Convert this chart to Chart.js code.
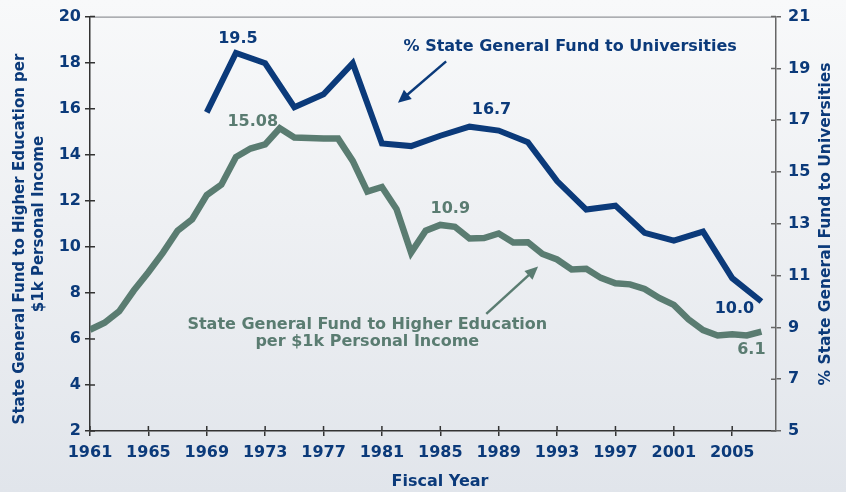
<!DOCTYPE html>
<html>
<head>
<meta charset="utf-8">
<script src="https://cdn.jsdelivr.net/npm/chart.js@4.4.1/dist/chart.umd.min.js"></script>
<style>
  html, body { margin: 0; padding: 0; }
  body {
    width: 846px; height: 492px; overflow: hidden;
    background: linear-gradient(to bottom, #f8f9fa 0%, #eef0f3 45%, #e1e5eb 100%);
  }
  #wrap { position: relative; width: 846px; height: 492px; }
</style>
</head>
<body>
<div id="wrap"><canvas id="c" width="846" height="492"></canvas></div>
<script>
// Fiscal years on the x axis
const incomeYears = [
  1961, 1962, 1963, 1964, 1965, 1966, 1967, 1968, 1969, 1970,
  1971, 1972, 1973, 1974, 1975, 1976, 1977, 1978, 1979, 1980,
  1981, 1982, 1983, 1984, 1985, 1986, 1987, 1988, 1989, 1990,
  1991, 1992, 1993, 1994, 1995, 1996, 1997, 1998, 1999, 2000,
  2001, 2002, 2003, 2004, 2005, 2006, 2007,
];
// State GF to higher ed per $1k personal income (left axis)
const perIncome = [
  6.4, 6.7, 7.2, 8.1, 8.9, 9.75, 10.7, 11.2, 12.25, 12.7,
  13.9, 14.27, 14.45, 15.15, 14.75, 14.73, 14.7, 14.7, 13.73, 12.4,
  12.6, 11.64, 9.75, 10.7, 10.95, 10.87, 10.36, 10.38, 10.58, 10.19,
  10.2, 9.69, 9.45, 9.02, 9.05, 8.65, 8.42, 8.37, 8.17, 7.78,
  7.48, 6.85, 6.38, 6.15, 6.2, 6.15, 6.32,
];
// % of state general fund going to universities (right axis), every other year
const pctYears = [
  1969, 1971, 1973, 1975, 1977, 1979, 1981, 1983, 1985, 1987,
  1989, 1991, 1993, 1995, 1997, 1999, 2001, 2003, 2005, 2007,
];
const pctToUniv = [
  17.3, 19.6, 19.2, 17.5, 18.0, 19.2, 16.1, 16.0, 16.4, 16.75,
  16.6, 16.15, 14.65, 13.55, 13.7, 12.65, 12.35, 12.7, 10.9, 10.0,
];
const xTicks = [1961, 1965, 1969, 1973, 1977, 1981, 1985, 1989, 1993, 1997, 2001, 2005];

const BLUE = "#0b3a7a";
const GREEN = "#5a7c71";
const FONT = "'DejaVu Sans', Verdana, sans-serif";

// callouts: text anchored at a data point on one of the y axes, nudged by dx/dy px
const callouts = [
  { text: "19.5", x: 1971, y: 19.6, axis: "yR", dx: 2, dy: -14, color: BLUE },
  { text: "15.08", x: 1974, y: 15.08, axis: "yL", dx: -27, dy: -8, color: GREEN },
  { text: "16.7", x: 1987, y: 16.75, axis: "yR", dx: 22, dy: -17, color: BLUE },
  { text: "10.9", x: 1985, y: 10.95, axis: "yL", dx: 10, dy: -16, color: GREEN },
  { text: "10.0", x: 2007, y: 10.0, axis: "yR", dx: -27, dy: 7, color: BLUE },
  { text: "6.1", x: 2007, y: 6.32, axis: "yL", dx: -10, dy: 18, color: GREEN },
];
const seriesNotes = [
  { lines: ["% State General Fund to Universities"], x: 1993.9, y: 19.85, axis: "yR", color: BLUE,
    arrow: { from: [1985.4, 19.27], to: [1982.1, 17.67] } },
  { lines: ["State General Fund to Higher Education", "per $1k Personal Income"], x: 1980.0, y: 6.59, axis: "yL", color: GREEN,
    arrow: { from: [1988.15, 7.09], to: [1991.7, 9.14] } },
];

function drawArrow(ctx, x1, y1, x2, y2, color) {
  const a = Math.atan2(y2 - y1, x2 - x1);
  const head = 13, half = 6;
  ctx.save();
  ctx.strokeStyle = color;
  ctx.fillStyle = color;
  ctx.lineWidth = 2.5;
  ctx.beginPath();
  ctx.moveTo(x1, y1);
  ctx.lineTo(x2 - Math.cos(a) * head * 0.8, y2 - Math.sin(a) * head * 0.8);
  ctx.stroke();
  ctx.beginPath();
  ctx.moveTo(x2, y2);
  ctx.lineTo(x2 - head * Math.cos(a) + half * Math.sin(a), y2 - head * Math.sin(a) - half * Math.cos(a));
  ctx.lineTo(x2 - head * Math.cos(a) - half * Math.sin(a), y2 - head * Math.sin(a) + half * Math.cos(a));
  ctx.closePath();
  ctx.fill();
  ctx.restore();
}

const decorations = {
  id: "decorations",
  afterDraw(chart) {
    const { ctx, chartArea: ca, scales } = chart;
    const x = scales.x;

    // top frame line
    ctx.save();
    ctx.strokeStyle = "#7a7d82";
    ctx.lineWidth = 1;
    ctx.beginPath();
    ctx.moveTo(ca.left, ca.top + 0.5);
    ctx.lineTo(ca.right, ca.top + 0.5);
    ctx.stroke();

    // inward half of the crossing tick marks
    ctx.strokeStyle = "#333";
    ctx.lineWidth = 1.5;
    ctx.beginPath();
    x.ticks.forEach((t) => {
      const px = x.getPixelForValue(t.value);
      ctx.moveTo(px, ca.bottom); ctx.lineTo(px, ca.bottom - 5);
    });
    scales.yL.ticks.forEach((t) => {
      const py = scales.yL.getPixelForValue(t.value);
      ctx.moveTo(ca.left, py); ctx.lineTo(ca.left + 5, py);
    });
    ctx.stroke();
    ctx.strokeStyle = "#666";
    ctx.beginPath();
    scales.yR.ticks.forEach((t) => {
      const py = scales.yR.getPixelForValue(t.value);
      ctx.moveTo(ca.right, py); ctx.lineTo(ca.right - 5, py);
    });
    ctx.stroke();
    ctx.restore();

    // axis titles, both read bottom-to-top
    ctx.save();
    ctx.fillStyle = BLUE;
    ctx.textAlign = "center";
    ctx.textBaseline = "middle";
    const vtext = (t, cx, cy) => {
      ctx.save();
      ctx.translate(cx, cy);
      ctx.rotate(-Math.PI / 2);
      ctx.fillText(t, 0, 0);
      ctx.restore();
    };
    ctx.font = `bold 15px ${FONT}`;
    vtext("State General Fund to Higher Education per", 20, 239);
    vtext("$1k Personal Income", 39, 224);
    ctx.font = `bold 15.5px ${FONT}`;
    vtext("% State General Fund to Universities", 826, 224);
    ctx.font = `bold 16px ${FONT}`;
    ctx.fillText("Fiscal Year", 440, 482);
    ctx.restore();

    // value callouts
    ctx.save();
    ctx.font = `bold 16px ${FONT}`;
    ctx.textAlign = "center";
    ctx.textBaseline = "middle";
    callouts.forEach((c) => {
      ctx.fillStyle = c.color;
      ctx.fillText(c.text, x.getPixelForValue(c.x) + c.dx, scales[c.axis].getPixelForValue(c.y) + c.dy);
    });
    ctx.restore();

    // series notes with arrows
    seriesNotes.forEach((n) => {
      const sy = scales[n.axis];
      ctx.save();
      ctx.font = `bold 16px ${FONT}`;
      ctx.fillStyle = n.color;
      ctx.textAlign = "center";
      ctx.textBaseline = "middle";
      const cx = x.getPixelForValue(n.x), cy = sy.getPixelForValue(n.y);
      n.lines.forEach((l, i) => ctx.fillText(l, cx, cy + i * 17));
      ctx.restore();
      const a = n.arrow;
      drawArrow(ctx,
        x.getPixelForValue(a.from[0]), sy.getPixelForValue(a.from[1]),
        x.getPixelForValue(a.to[0]), sy.getPixelForValue(a.to[1]), n.color);
    });
  },
};

const tickFont = { family: FONT, size: 16, weight: "bold" };

new Chart(document.getElementById("c"), {
  type: "line",
  data: {
    datasets: [
      {
        label: "State General Fund to Higher Education per $1k Personal Income",
        data: incomeYears.map((yr, i) => ({ x: yr, y: perIncome[i] })),
        yAxisID: "yL",
        borderColor: GREEN,
        borderWidth: 6.5,
        pointRadius: 0,
        tension: 0,
        fill: false,
      },
      {
        label: "% State General Fund to Universities",
        data: pctYears.map((yr, i) => ({ x: yr, y: pctToUniv[i] })),
        yAxisID: "yR",
        borderColor: BLUE,
        borderWidth: 6,
        pointRadius: 0,
        tension: 0,
        fill: false,
      },
    ],
  },
  options: {
    responsive: false,
    animation: false,
    layout: { padding: { top: 15, left: 0, right: 0, bottom: 0 } },
    plugins: { legend: { display: false }, tooltip: { enabled: false } },
    scales: {
      x: {
        type: "linear",
        min: 1961,
        max: 2008,
        afterBuildTicks: (s) => { s.ticks = xTicks.map((v) => ({ value: v })); },
        afterFit: (s) => { s.height = 61; },
        grid: { drawOnChartArea: false, drawTicks: true, tickLength: 5, color: "#333", lineWidth: 1.5 },
        border: { display: true, color: "#333", width: 1.5 },
        ticks: {
          color: BLUE, font: tickFont, padding: 7, maxRotation: 0, autoSkip: false,
          callback: (v) => String(v),
        },
      },
      yL: {
        position: "left",
        min: 2,
        max: 20,
        afterFit: (s) => { s.width = 90; },
        grid: { drawOnChartArea: false, drawTicks: true, tickLength: 5, color: "#333", lineWidth: 1.5 },
        border: { display: true, color: "#333", width: 1.5 },
        ticks: { color: BLUE, font: tickFont, stepSize: 2, padding: 4 },
      },
      yR: {
        position: "right",
        min: 5,
        max: 21,
        afterFit: (s) => { s.width = 70; },
        grid: { drawOnChartArea: false, drawTicks: true, tickLength: 5, color: "#666", lineWidth: 1.5 },
        border: { display: true, color: "#666", width: 1.5 },
        ticks: { color: BLUE, font: tickFont, stepSize: 2, padding: 7 },
      },
    },
  },
  plugins: [decorations],
});
</script>
</body>
</html>
